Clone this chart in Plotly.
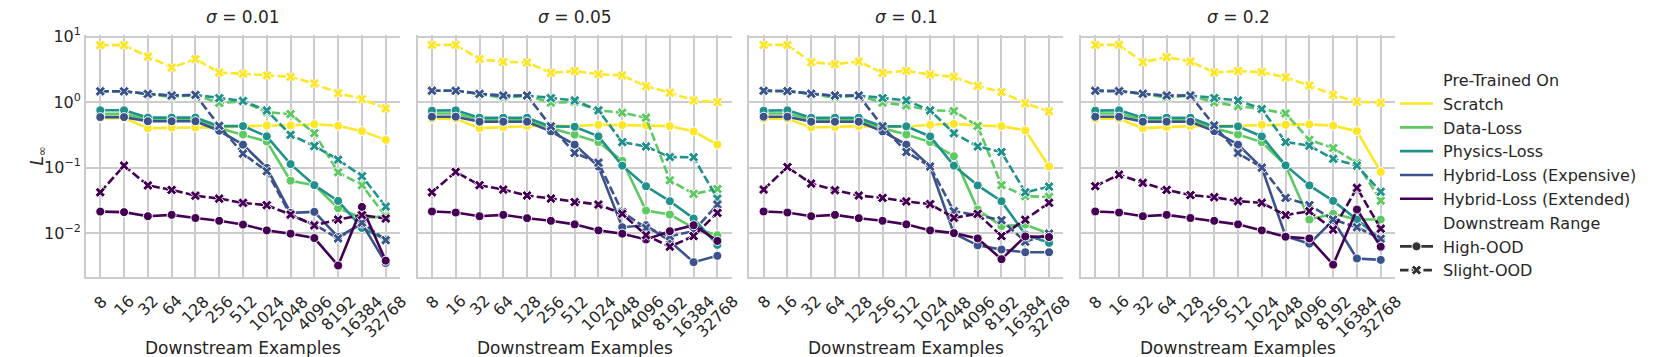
import plotly.graph_objects as go
from plotly.subplots import make_subplots

# downstream example counts (categorical x axis)
EXAMPLES = ["8", "16", "32", "64", "128", "256", "512", "1024", "2048", "4096", "8192", "16384", "32768"]
SIGMAS = ["0.01", "0.05", "0.1", "0.2"]
PRETRAIN = ["Scratch", "Data-Loss", "Physics-Loss", "Hybrid-Loss (Expensive)", "Hybrid-Loss (Extended)"]
RANGES = ["High-OOD", "Slight-OOD"]

# L_inf error, one row per PRETRAIN entry
high_s001 = [
    [0.57, 0.57, 0.40, 0.41, 0.41, 0.41, 0.43, 0.44, 0.44, 0.46, 0.435, 0.36, 0.265],
    [0.66, 0.66, 0.54, 0.54, 0.54, 0.40, 0.32, 0.25, 0.063, 0.054, 0.024, 0.017, 0.018],
    [0.75, 0.75, 0.58, 0.58, 0.58, 0.43, 0.43, 0.30, 0.113, 0.054, 0.031, 0.012, 0.008],
    [0.59, 0.59, 0.51, 0.51, 0.51, 0.365, 0.224, 0.099, 0.0204, 0.0211, 0.0087, 0.014, 0.0035],
    [0.0213, 0.0209, 0.0181, 0.019, 0.017, 0.0154, 0.0135, 0.011, 0.0098, 0.0084, 0.0032, 0.0251, 0.0038],
]
slight_s001 = [
    [7.4, 7.4, 4.96, 3.37, 4.52, 2.83, 2.70, 2.55, 2.43, 1.92, 1.37, 1.11, 0.80],
    [1.46, 1.46, 1.33, 1.19, 1.29, 0.97, 1.02, 0.70, 0.655, 0.335, 0.085, 0.054, 0.018],
    [1.46, 1.46, 1.33, 1.26, 1.29, 1.15, 1.04, 0.745, 0.317, 0.213, 0.132, 0.074, 0.0254],
    [1.46, 1.46, 1.33, 1.26, 1.29, 0.434, 0.163, 0.088, 0.0188, 0.0135, 0.0083, 0.0144, 0.0078],
    [0.042, 0.107, 0.0535, 0.0456, 0.0373, 0.0336, 0.0289, 0.0267, 0.0192, 0.0131, 0.0161, 0.0188, 0.0167],
]
high_s005 = [
    [0.557, 0.557, 0.40, 0.416, 0.43, 0.44, 0.43, 0.45, 0.445, 0.44, 0.43, 0.356, 0.224],
    [0.67, 0.67, 0.538, 0.538, 0.538, 0.40, 0.318, 0.245, 0.127, 0.0221, 0.0192, 0.012, 0.0093],
    [0.74, 0.75, 0.577, 0.577, 0.577, 0.426, 0.42, 0.30, 0.107, 0.0519, 0.0307, 0.0167, 0.0066],
    [0.598, 0.598, 0.502, 0.502, 0.502, 0.357, 0.224, 0.104, 0.0123, 0.0132, 0.0075, 0.0036, 0.0045],
    [0.0214, 0.0206, 0.0181, 0.019, 0.0169, 0.0154, 0.0136, 0.011, 0.0098, 0.0080, 0.0107, 0.0132, 0.0076],
]
slight_s005 = [
    [7.46, 7.46, 4.52, 4.11, 4.02, 2.80, 2.97, 2.67, 2.55, 1.75, 1.39, 1.06, 1.0],
    [1.49, 1.49, 1.34, 1.15, 1.26, 0.98, 1.0, 0.747, 0.688, 0.577, 0.064, 0.0397, 0.0472],
    [1.49, 1.49, 1.34, 1.22, 1.26, 1.15, 1.06, 0.747, 0.245, 0.21, 0.145, 0.144, 0.0336],
    [1.49, 1.49, 1.34, 1.26, 1.26, 0.426, 0.167, 0.119, 0.021, 0.012, 0.009, 0.0107, 0.0273],
    [0.042, 0.086, 0.0538, 0.0462, 0.0375, 0.0337, 0.0297, 0.0273, 0.0197, 0.0093, 0.0062, 0.009, 0.0204],
]
high_s01 = [
    [0.557, 0.557, 0.41, 0.416, 0.43, 0.416, 0.42, 0.45, 0.465, 0.44, 0.43, 0.37, 0.104],
    [0.67, 0.67, 0.538, 0.538, 0.538, 0.40, 0.32, 0.245, 0.149, 0.0229, 0.0128, 0.0135, 0.0098],
    [0.74, 0.75, 0.577, 0.577, 0.577, 0.426, 0.426, 0.299, 0.107, 0.0535, 0.0307, 0.0095, 0.0071],
    [0.598, 0.598, 0.502, 0.502, 0.502, 0.357, 0.224, 0.104, 0.0098, 0.0065, 0.0056, 0.0051, 0.0051],
    [0.0214, 0.0206, 0.0181, 0.019, 0.0169, 0.0154, 0.0136, 0.011, 0.010, 0.0083, 0.004, 0.0089, 0.0087],
]
slight_s01 = [
    [7.46, 7.46, 4.06, 3.79, 4.16, 2.80, 3.0, 2.64, 2.43, 1.77, 1.42, 0.955, 0.72],
    [1.49, 1.47, 1.34, 1.17, 1.26, 0.98, 0.89, 0.747, 0.73, 0.431, 0.0538, 0.0366, 0.0357],
    [1.49, 1.47, 1.34, 1.24, 1.26, 1.15, 1.06, 0.747, 0.335, 0.21, 0.173, 0.042, 0.0512],
    [1.49, 1.47, 1.34, 1.26, 1.26, 0.426, 0.173, 0.104, 0.0216, 0.0188, 0.0157, 0.0074, 0.0098],
    [0.0462, 0.102, 0.057, 0.0452, 0.0375, 0.0345, 0.0304, 0.0277, 0.0171, 0.0197, 0.009, 0.016, 0.029],
]
high_s02 = [
    [0.557, 0.557, 0.40, 0.416, 0.43, 0.43, 0.435, 0.45, 0.45, 0.457, 0.437, 0.36, 0.086],
    [0.67, 0.67, 0.538, 0.538, 0.538, 0.40, 0.32, 0.245, 0.108, 0.0161, 0.0197, 0.0161, 0.0161],
    [0.74, 0.75, 0.577, 0.577, 0.577, 0.426, 0.426, 0.299, 0.108, 0.0535, 0.031, 0.0161, 0.008],
    [0.598, 0.598, 0.502, 0.502, 0.502, 0.36, 0.224, 0.1, 0.009, 0.0069, 0.0157, 0.0041, 0.0039],
    [0.0214, 0.0206, 0.0181, 0.019, 0.017, 0.0154, 0.0136, 0.011, 0.0088, 0.0083, 0.0033, 0.0229, 0.0062],
]
slight_s02 = [
    [7.46, 7.46, 4.06, 4.84, 4.16, 2.83, 2.97, 2.87, 2.38, 1.79, 1.29, 1.01, 0.98],
    [1.49, 1.47, 1.34, 1.17, 1.26, 0.99, 0.87, 0.78, 0.672, 0.266, 0.199, 0.117, 0.0313],
    [1.49, 1.47, 1.34, 1.24, 1.26, 1.15, 1.06, 0.783, 0.245, 0.216, 0.136, 0.107, 0.0427],
    [1.49, 1.47, 1.34, 1.26, 1.26, 0.44, 0.167, 0.1, 0.0345, 0.0267, 0.0161, 0.0123, 0.0082],
    [0.052, 0.078, 0.0584, 0.0457, 0.038, 0.0353, 0.0307, 0.029, 0.0188, 0.0216, 0.0113, 0.049, 0.0117],
]

HIGH = [high_s001, high_s005, high_s01, high_s02]
SLIGHT = [slight_s001, slight_s005, slight_s01, slight_s02]

COLORS = ["#fde725", "#5ec962", "#21918c", "#3b528b", "#440154"]
TEXT = "#262626"
GRID = "#cccccc"
FONT = "DejaVu Sans"
DASH = "8.5px,3.2px"
LW = 2.6
MS = 9

fig = make_subplots(rows=1, cols=4, shared_yaxes=True, horizontal_spacing=0.0135)

# legend-only entries
def legend_entry(name, color, dash="solid", symbol=None):
    mode = "lines+markers" if symbol else "lines"
    fig.add_trace(
        go.Scatter(
            x=[None], y=[None], mode=mode, name="\u00a0" + name,
            line=dict(color=color, width=LW, dash=dash),
            marker=dict(symbol=symbol or "circle", size=MS, color=color, line=dict(color="white", width=1)),
        ),
        row=1, col=1,
    )

legend_entry("Pre-Trained On", "rgba(0,0,0,0)")
for name, color in zip(PRETRAIN, COLORS):
    legend_entry(name, color)
legend_entry("Downstream Range", "rgba(0,0,0,0)")
legend_entry("High-OOD", "#333333", "solid", "circle")
legend_entry("Slight-OOD", "#333333", DASH, "x")

for c in range(4):
    for p, color in enumerate(COLORS):
        for vals, dash, sym in ((HIGH[c][p], "solid", "circle"), (SLIGHT[c][p], DASH, "x")):
            fig.add_trace(
                go.Scatter(
                    x=EXAMPLES, y=vals, mode="lines+markers", showlegend=False,
                    line=dict(color=color, width=LW, dash=dash),
                    marker=dict(symbol=sym, size=MS, color=color, line=dict(color="white", width=1)),
                ),
                row=1, col=c + 1,
            )

annotations = []
for c, s in enumerate(SIGMAS):
    xa = "x" if c == 0 else f"x{c + 1}"
    annotations.append(dict(
        text=f"<i>σ</i> = {s}", xref=f"{xa} domain", yref="paper", x=0.5, y=1,
        yanchor="middle", yshift=18, showarrow=False, font=dict(size=17, color=TEXT),
    ))
    annotations.append(dict(
        text="Downstream Examples", xref=f"{xa} domain", yref="paper", x=0.5, y=0,
        yanchor="middle", yshift=-71, showarrow=False, font=dict(size=17, color=TEXT),
    ))
    for i, lab in enumerate(EXAMPLES):
        annotations.append(dict(
            text=lab, xref=xa, yref="paper", x=i, y=0, xanchor="center", yanchor="top",
            yshift=-12, textangle=-45, showarrow=False, font=dict(size=16, color=TEXT),
        ))
annotations.append(dict(
    text="<i>L</i><sub>∞</sub>", xref="paper", yref="paper", x=0, y=0.5, xshift=-62,
    textangle=-90, showarrow=False, font=dict(size=17, color=TEXT),
))

fig.update_xaxes(
    type="category", range=[-0.6, 12.6], showticklabels=False, showgrid=True,
    gridcolor=GRID, gridwidth=1.5, showline=True, linecolor=GRID, linewidth=1.8, ticks="",
)
fig.update_yaxes(
    type="log", range=[-2.67, 1.024], tickvals=[0.01, 0.1, 1, 10],
    ticktext=["10<sup>−2</sup>", "10<sup>−1</sup>", "10<sup>0</sup>", "10<sup>1</sup>"],
    showgrid=True, gridcolor=GRID, gridwidth=1.5, showline=True, linecolor=GRID, linewidth=1.8,
    ticks="", zeroline=False, tickfont=dict(size=16, color=TEXT),
)
fig.update_yaxes(showticklabels=True, row=1, col=1)

fig.update_layout(
    width=1661, height=357,
    margin=dict(l=78, r=274, t=27, b=88),
    paper_bgcolor="white", plot_bgcolor="white",
    font=dict(family=FONT, color=TEXT),
    annotations=annotations,
    legend=dict(
        x=1.0, xanchor="left", y=0.885, yanchor="top", itemwidth=33,
        font=dict(size=16, color=TEXT), bgcolor="rgba(0,0,0,0)", tracegroupgap=0,
    ),
)

fig.write_html("out.html")
